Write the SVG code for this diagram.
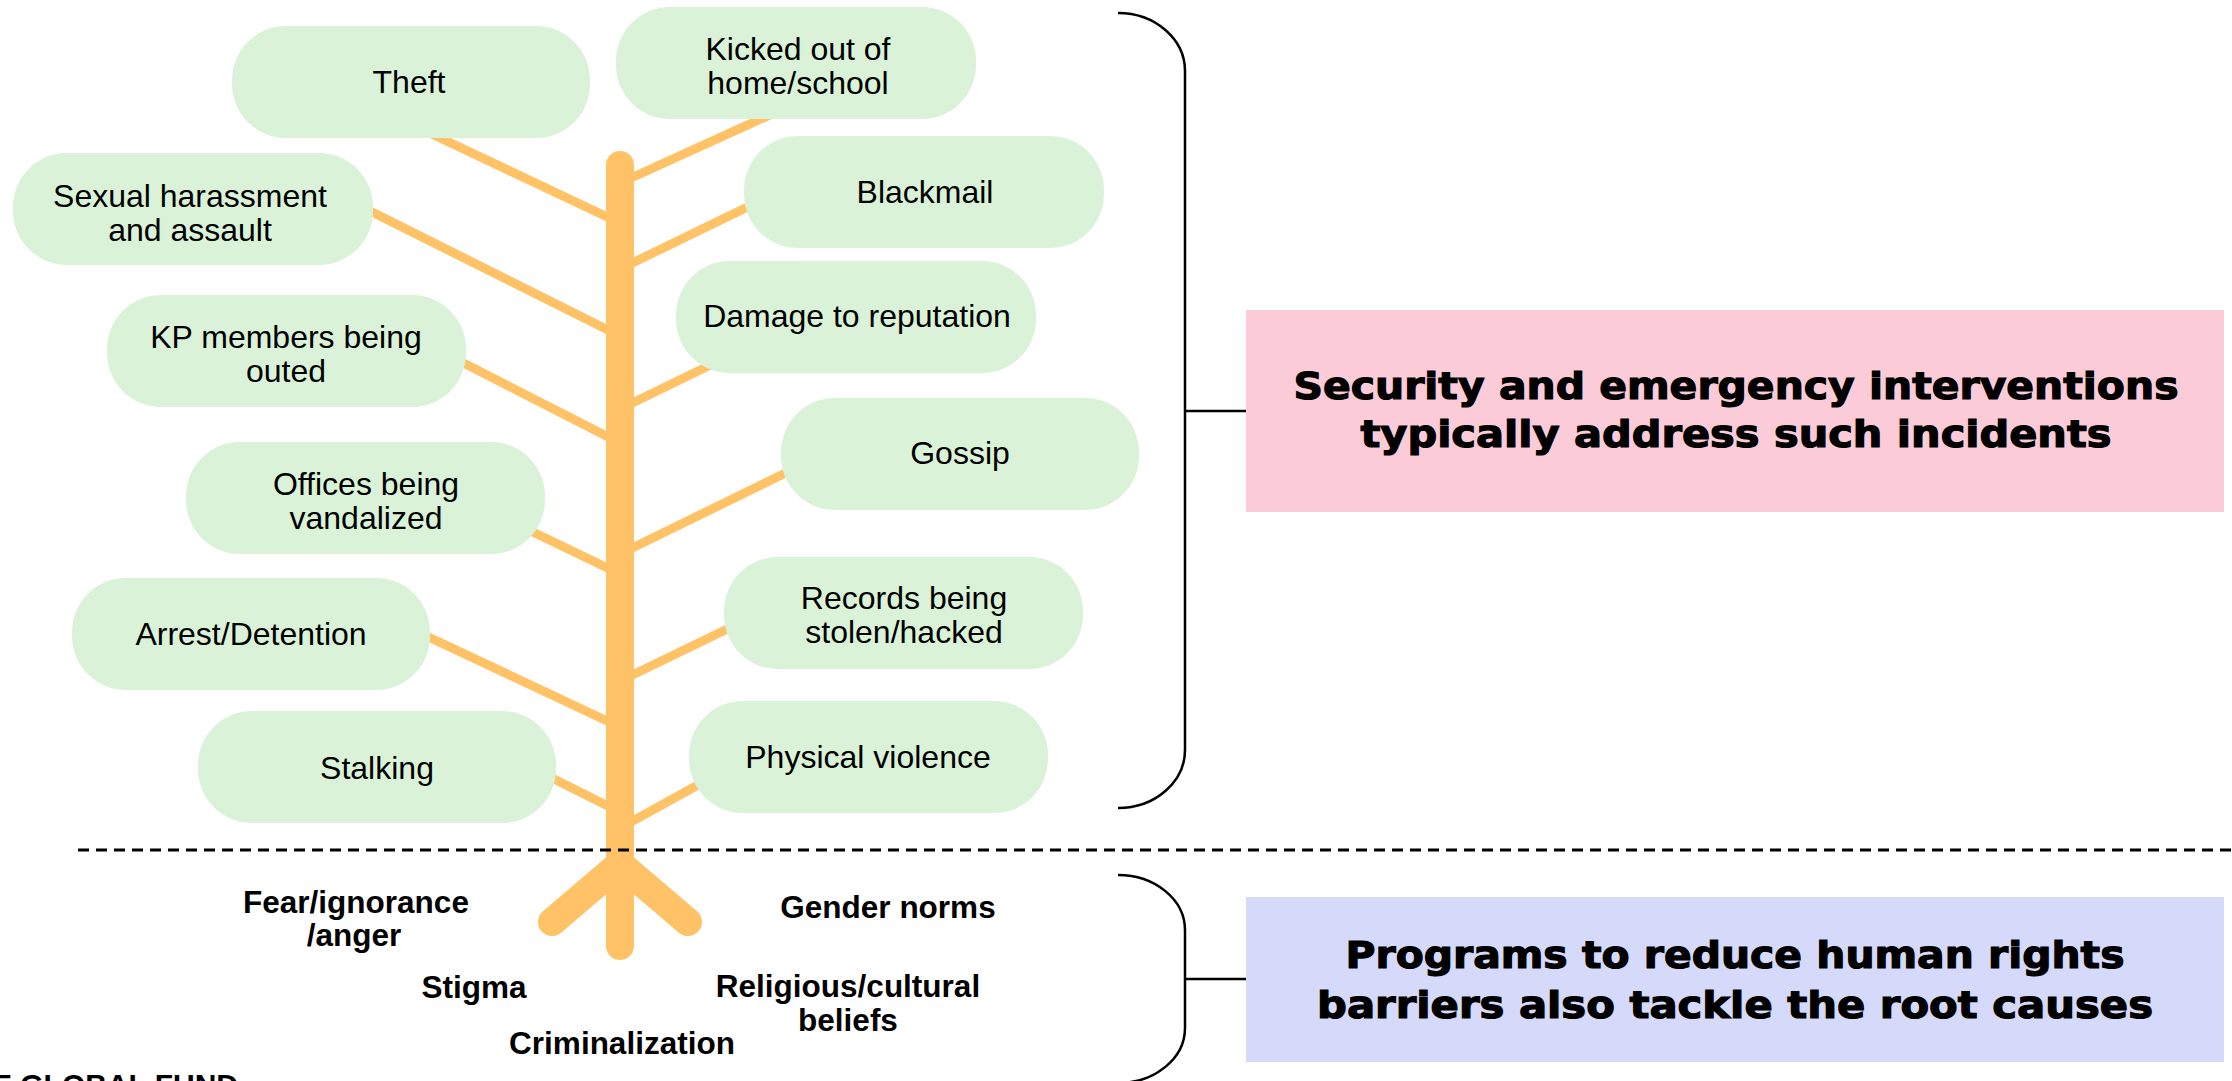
<svg xmlns="http://www.w3.org/2000/svg" width="2232" height="1081" viewBox="0 0 2232 1081">
<style>
.box{fill:#DAF3D8}
.lbl{font-family:"Liberation Sans",Arial,sans-serif;font-size:32px;fill:#000;text-anchor:middle}
.root{font-family:"Liberation Sans",Arial,sans-serif;font-size:31.5px;font-weight:bold;fill:#000;text-anchor:middle}
.head{font-family:"DejaVu Sans","Liberation Sans",sans-serif;font-size:38px;font-weight:bold;fill:#000;text-anchor:middle;stroke:#000;stroke-width:1.2}
.br{fill:none;stroke:#000;stroke-width:2.5}
.branch{stroke:#FFC266;stroke-width:9;stroke-linecap:butt;fill:none}
.thick{stroke:#FFC266;stroke-width:28;stroke-linecap:round;fill:none}
</style>
<rect width="2232" height="1081" fill="#fff"/>
<g id="connectors">
<line class="branch" x1="620" y1="223" x2="415" y2="126"/>
<line class="branch" x1="620" y1="336" x2="350" y2="201"/>
<line class="branch" x1="620" y1="443" x2="440" y2="351"/>
<line class="branch" x1="620" y1="574" x2="510" y2="521"/>
<line class="branch" x1="620" y1="727" x2="405" y2="626"/>
<line class="branch" x1="620" y1="812" x2="530" y2="767"/>
<line class="branch" x1="620" y1="183" x2="785" y2="108"/>
<line class="branch" x1="620" y1="269" x2="770" y2="196"/>
<line class="branch" x1="620" y1="409" x2="735" y2="353"/>
<line class="branch" x1="620" y1="554" x2="810" y2="461"/>
<line class="branch" x1="620" y1="681" x2="750" y2="618"/>
<line class="branch" x1="620" y1="828" x2="725" y2="770"/>
</g>
<g id="tree">
<line class="thick" x1="620" y1="165" x2="620" y2="946"/>
<line class="thick" x1="620" y1="864" x2="552" y2="922"/>
<line class="thick" x1="620" y1="864" x2="688" y2="922"/>
</g>
<g id="n-theft"><rect class="box" x="232" y="26" width="358" height="112" rx="54"/><text class="lbl" x="409" y="93">Theft</text></g>
<g id="n-kicked"><rect class="box" x="616" y="7" width="360" height="112" rx="54"/><text class="lbl" x="798" y="60">Kicked out of</text><text class="lbl" x="798" y="94">home/school</text></g>
<g id="n-sexual"><rect class="box" x="13" y="153" width="360" height="112" rx="54"/><text class="lbl" x="190" y="207">Sexual harassment</text><text class="lbl" x="190" y="241">and assault</text></g>
<g id="n-blackmail"><rect class="box" x="744" y="136" width="360" height="112" rx="54"/><text class="lbl" x="925" y="203">Blackmail</text></g>
<g id="n-kp"><rect class="box" x="107" y="295" width="359" height="112" rx="54"/><text class="lbl" x="286" y="348">KP members being</text><text class="lbl" x="286" y="382">outed</text></g>
<g id="n-damage"><rect class="box" x="676" y="261" width="360" height="112" rx="54"/><text class="lbl" x="857" y="327">Damage to reputation</text></g>
<g id="n-gossip"><rect class="box" x="781" y="398" width="358" height="112" rx="54"/><text class="lbl" x="960" y="464">Gossip</text></g>
<g id="n-offices"><rect class="box" x="186" y="442" width="359" height="112" rx="54"/><text class="lbl" x="366" y="495">Offices being</text><text class="lbl" x="366" y="529">vandalized</text></g>
<g id="n-arrest"><rect class="box" x="72" y="578" width="358" height="112" rx="54"/><text class="lbl" x="251" y="645">Arrest/Detention</text></g>
<g id="n-records"><rect class="box" x="724" y="557" width="359" height="112" rx="54"/><text class="lbl" x="904" y="609">Records being</text><text class="lbl" x="904" y="643">stolen/hacked</text></g>
<g id="n-stalking"><rect class="box" x="198" y="711" width="358" height="112" rx="54"/><text class="lbl" x="377" y="779">Stalking</text></g>
<g id="n-physical"><rect class="box" x="689" y="701" width="359" height="112" rx="54"/><text class="lbl" x="868" y="768">Physical violence</text></g>
<line id="divider" x1="78" y1="850" x2="2232" y2="850" stroke="#000" stroke-width="3" stroke-dasharray="11 7"/>
<g id="roots">
<text class="root" x="356" y="913">Fear/ignorance</text>
<text class="root" x="354" y="946">/anger</text>
<text class="root" x="888" y="918">Gender norms</text>
<text class="root" x="474" y="998">Stigma</text>
<text class="root" x="848" y="997">Religious/cultural</text>
<text class="root" x="848" y="1031">beliefs</text>
<text class="root" x="622" y="1054">Criminalization</text>
</g>
<g id="brackets">
<path class="br" d="M1118,13 A67,58 0 0 1 1185,71 L1185,750 A67,58 0 0 1 1118,808"/>
<line class="br" x1="1185" y1="411" x2="1246" y2="411"/>
<path class="br" d="M1118,875 A67,55 0 0 1 1185,930 L1185,1028 A67,55 0 0 1 1118,1083"/>
<line class="br" x1="1185" y1="979" x2="1246" y2="979"/>
</g>
<g id="n-security"><rect x="1246" y="310" width="978" height="202" fill="#FBCCD7"/>
<text class="head" x="1736" y="399" textLength="885" lengthAdjust="spacingAndGlyphs">Security and emergency interventions</text>
<text class="head" x="1736" y="447" textLength="751" lengthAdjust="spacingAndGlyphs">typically address such incidents</text></g>
<g id="n-programs"><rect x="1246" y="897" width="978" height="165" fill="#D5DAFB"/>
<text class="head" x="1735" y="968" textLength="779" lengthAdjust="spacingAndGlyphs">Programs to reduce human rights</text>
<text class="head" x="1735" y="1018" textLength="836" lengthAdjust="spacingAndGlyphs">barriers also tackle the root causes</text></g>
<text id="logo" x="238" y="1095" font-family="Liberation Sans, Arial, sans-serif" font-size="30" font-weight="bold" text-anchor="end">THE GLOBAL FUND</text>
</svg>
